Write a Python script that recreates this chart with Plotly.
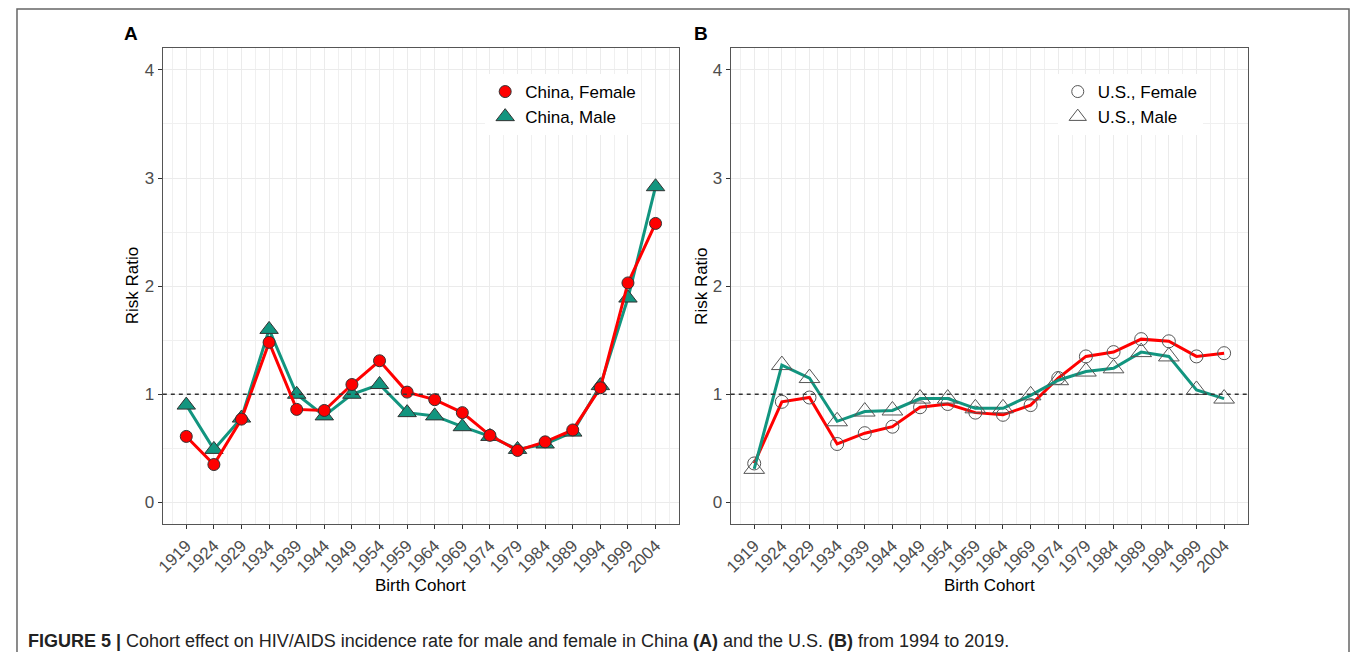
import plotly.graph_objects as go

cohorts = [1919, 1924, 1929, 1934, 1939, 1944, 1949, 1954, 1959, 1964,
           1969, 1974, 1979, 1984, 1989, 1994, 1999, 2004]

china_female = [0.61, 0.35, 0.77, 1.48, 0.86, 0.85, 1.09, 1.31, 1.02, 0.95,
                0.83, 0.62, 0.48, 0.56, 0.67, 1.06, 2.03, 2.58]
china_male = [0.90, 0.49, 0.78, 1.60, 1.00, 0.80, 1.00, 1.09, 0.83, 0.80,
              0.70, 0.61, 0.49, 0.54, 0.65, 1.08, 1.89, 2.92]

us_female = [0.36, 0.93, 0.97, 0.54, 0.64, 0.70, 0.88, 0.91, 0.83, 0.81,
             0.90, 1.15, 1.35, 1.39, 1.51, 1.49, 1.35, 1.38]
us_male = [0.31, 1.27, 1.15, 0.75, 0.84, 0.85, 0.96, 0.96, 0.87, 0.87,
           0.99, 1.13, 1.21, 1.24, 1.39, 1.35, 1.04, 0.96]

y_ticks = [0, 1, 2, 3, 4]

# page body has an 8px margin all round, so size the figure to fit inside it
OFF = 8
W, H = 1358 - 2 * OFF, 660 - 2 * OFF
RED = "#FF0000"
TEAL = "#12957F"
FONT = "Liberation Sans"


def px_x(p):
    return (p - OFF) / W


def px_y(p):
    return 1 - (p - OFF) / H


fig = go.Figure()

# panel A
fig.add_trace(go.Scatter(x=cohorts, y=china_male, mode="lines+markers",
                         line=dict(color=TEAL, width=3),
                         marker=dict(symbol="triangle-up", size=16, color=TEAL,
                                     line=dict(color="#333333", width=1)),
                         showlegend=False, xaxis="x", yaxis="y"))
fig.add_trace(go.Scatter(x=cohorts, y=china_female, mode="lines+markers",
                         line=dict(color=RED, width=3),
                         marker=dict(symbol="circle", size=12, color=RED,
                                     line=dict(color="#333333", width=1)),
                         showlegend=False, xaxis="x", yaxis="y"))
fig.add_trace(go.Scatter(x=[None], y=[None], mode="markers", name="China, Female",
                         marker=dict(symbol="circle", size=12, color=RED,
                                     line=dict(color="#333333", width=1)),
                         xaxis="x", yaxis="y", legend="legend"))
fig.add_trace(go.Scatter(x=[None], y=[None], mode="markers", name="China, Male",
                         marker=dict(symbol="triangle-up", size=16, color=TEAL,
                                     line=dict(color="#333333", width=1)),
                         xaxis="x", yaxis="y", legend="legend"))

# panel B
fig.add_trace(go.Scatter(x=cohorts, y=us_female, mode="lines+markers",
                         line=dict(color=RED, width=3),
                         marker=dict(symbol="circle-open", size=13, color="#555555",
                                     line=dict(width=1)),
                         showlegend=False, xaxis="x2", yaxis="y2"))
fig.add_trace(go.Scatter(x=cohorts, y=us_male, mode="lines+markers",
                         line=dict(color=TEAL, width=3),
                         marker=dict(symbol="triangle-up-open", size=18, color="#555555",
                                     line=dict(width=1)),
                         showlegend=False, xaxis="x2", yaxis="y2"))
fig.add_trace(go.Scatter(x=[None], y=[None], mode="markers", name="U.S., Female",
                         marker=dict(symbol="circle-open", size=12, color="#555555",
                                     line=dict(width=1)),
                         xaxis="x2", yaxis="y2", legend="legend2"))
fig.add_trace(go.Scatter(x=[None], y=[None], mode="markers", name="U.S., Male",
                         marker=dict(symbol="triangle-up-open", size=15, color="#555555",
                                     line=dict(width=1)),
                         xaxis="x2", yaxis="y2", legend="legend2"))

grid = "#EBEBEB"
xaxis_common = dict(
    range=[1914.75, 2008.25], tickmode="array", tickvals=cohorts,
    ticktext=[str(c) for c in cohorts], tickangle=-45,
    tickfont=dict(family=FONT, size=17, color="#4D4D4D"),
    showgrid=True, gridcolor=grid, gridwidth=1,
    minor=dict(tickmode="linear", tick0=1916.5, dtick=5, showgrid=True,
               gridcolor="#F0F0F0", gridwidth=1, ticks=""),
    ticks="outside", ticklen=4, tickcolor="#333333",
    showline=True, mirror=True, linecolor="#555555", linewidth=1.2,
    zeroline=False,
)
yaxis_common = dict(
    range=[-0.2, 4.2], tickmode="array", tickvals=y_ticks,
    tickfont=dict(family=FONT, size=17, color="#4D4D4D"),
    showgrid=True, gridcolor=grid, gridwidth=1,
    minor=dict(tickmode="linear", tick0=0.5, dtick=1, showgrid=True,
               gridcolor="#F0F0F0", gridwidth=1, ticks=""),
    ticks="outside", ticklen=4, tickcolor="#333333",
    showline=True, mirror=True, linecolor="#555555", linewidth=1.2,
    zeroline=False,
)

y_dom = [px_y(524), px_y(48.3)]
fig.update_layout(
    width=W, height=H,
    margin=dict(l=0, r=0, t=0, b=0),
    paper_bgcolor="white", plot_bgcolor="white",
    font=dict(family=FONT, color="black"),
    xaxis=dict(domain=[px_x(155.7), px_x(675)], anchor="y", **xaxis_common),
    yaxis=dict(domain=y_dom, anchor="x", **yaxis_common),
    xaxis2=dict(domain=[px_x(727), px_x(1247)], anchor="y2", **xaxis_common),
    yaxis2=dict(domain=y_dom, anchor="x2", **yaxis_common),
    legend=dict(x=px_x(480), y=px_y(74), xanchor="left", yanchor="top",
                bgcolor="white", font=dict(family=FONT, size=17, color="black"),
                tracegroupgap=0, itemwidth=30),
    legend2=dict(x=px_x(1056), y=px_y(74), xanchor="left", yanchor="top",
                 bgcolor="white", font=dict(family=FONT, size=17, color="black"),
                 tracegroupgap=0, itemwidth=30),
)

# reference line at risk ratio 1
for xr, yr in [("x domain", "y"), ("x2 domain", "y2")]:
    fig.add_shape(type="line", xref=xr, yref=yr, x0=0, x1=1, y0=1, y1=1,
                  line=dict(color="#333333", width=1.3, dash="4px,4px"))

# outer frame (kept just inside the figure)
fig.add_shape(type="rect", xref="paper", yref="paper",
              x0=px_x(9), x1=px_x(1349), y0=px_y(680), y1=px_y(9),
              line=dict(color="#666666", width=1.5))

annots = [
    dict(text="<b>A</b>", x=px_x(124), y=px_y(33), size=19),
    dict(text="<b>B</b>", x=px_x(697), y=px_y(33), size=19),
    dict(text="Birth Cohort", x=px_x(415), y=px_y(585), size=17),
    dict(text="Birth Cohort", x=px_x(987), y=px_y(585), size=17),
]
for a in annots:
    fig.add_annotation(text=a["text"], x=a["x"], y=a["y"], xref="paper", yref="paper",
                       showarrow=False, xanchor="center", yanchor="middle",
                       font=dict(family=FONT, size=a["size"], color="black"))
for xp in [125, 697]:
    fig.add_annotation(text="Risk Ratio", x=px_x(xp), y=px_y(286), xref="paper",
                       yref="paper", showarrow=False, textangle=-90,
                       xanchor="center", yanchor="middle",
                       font=dict(family=FONT, size=17, color="black"))

fig.add_annotation(
    text="<b>FIGURE 5 |</b> Cohort effect on HIV/AIDS incidence rate for male and female "
         "in China <b>(A)</b> and the U.S. <b>(B)</b> from 1994 to 2019.",
    x=px_x(18), y=px_y(641), xref="paper", yref="paper", showarrow=False,
    xanchor="left", yanchor="middle",
    font=dict(family=FONT, size=18, color="#222222"))

fig.write_html("out.html")
